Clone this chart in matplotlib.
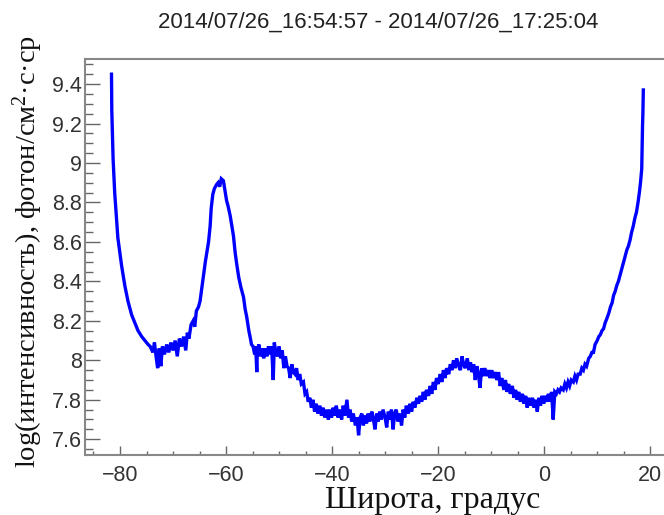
import matplotlib
matplotlib.use("Agg")
import matplotlib.pyplot as plt
from matplotlib.ticker import MultipleLocator

plt.rcParams["mathtext.fontset"] = "custom"
plt.rcParams["mathtext.rm"] = "Liberation Serif"
plt.rcParams["mathtext.it"] = "Liberation Serif:italic"

title = "2014/07/26_16:54:57 - 2014/07/26_17:25:04"
xlabel = "Широта, градус"
ylabel = "log(интенсивность), фотон/см$^{\\mathrm{2}}$·с·ср"

latitude = [
    -81.6, -81.55, -81.3, -81.0, -80.4, -79.7, -79.1, -78.5, -77.8, -77.2,
    -76.6, -75.9, -75.3, -74.7, -74.3, -73.8, -73.5, -73.2, -72.9, -72.6,
    -72.3, -72.0, -71.6, -71.2, -70.8, -70.4, -70.0, -69.6, -69.2, -68.8,
    -68.4, -68.0, -67.6, -67.3, -67.0, -66.6, -66.2, -65.9, -65.6, -65.2,
    -64.9, -64.6, -64.3, -63.9, -63.6, -63.3, -63.0, -62.8, -62.5, -62.2,
    -61.8, -61.5, -61.2, -60.9, -60.5, -60.2, -59.9, -59.6, -59.2, -58.9,
    -58.6, -58.3, -58.0, -57.6, -57.2, -56.7, -56.4, -56.1, -55.7, -55.4,
    -55.2, -54.9, -54.6, -54.4, -54.2, -54.1, -53.8, -53.5, -53.2, -52.9,
    -52.6, -52.3, -52.0, -51.7, -51.4, -51.1, -50.9, -50.6, -50.3, -50.0,
    -49.7, -49.4, -49.1, -48.8, -48.5, -48.2, -47.9, -47.6, -47.3, -47.0,
    -46.7, -46.4, -46.1, -45.8, -45.4, -45.1, -44.8, -44.5, -44.2, -43.9,
    -43.6, -43.3, -43.0, -42.7, -42.3, -42.0, -41.7, -41.4, -41.0, -40.7,
    -40.4, -40.1, -39.8, -39.5, -39.2, -38.9, -38.5, -38.2, -37.9, -37.6,
    -37.2, -36.9, -36.6, -36.3, -36.0, -35.6, -35.3, -35.0, -34.7, -34.4,
    -34.1, -33.8, -33.5, -33.2, -32.9, -32.5, -32.2, -31.9, -31.6, -31.3,
    -31.0, -30.7, -30.4, -30.0, -29.7, -29.4, -29.1, -28.8, -28.5, -28.2,
    -27.9, -27.6, -27.2, -26.9, -26.6, -26.3, -26.0, -25.6, -25.3, -25.0,
    -24.7, -24.4, -24.0, -23.7, -23.4, -23.1, -22.8, -22.5, -22.2, -21.8,
    -21.5, -21.2, -20.9, -20.6, -20.3, -20.0, -19.6, -19.3, -19.0, -18.7,
    -18.4, -18.0, -17.7, -17.4, -17.1, -16.8, -16.5, -16.1, -15.8, -15.5,
    -15.2, -14.9, -14.5, -14.2, -13.9, -13.6, -13.3, -13.0, -12.7, -12.4,
    -12.1, -11.8, -11.5, -11.2, -10.8, -10.5, -10.2, -9.9, -9.6, -9.2,
    -8.9, -8.6, -8.3, -8.0, -7.6, -7.3, -7.0, -6.7, -6.4, -6.0,
    -5.7, -5.4, -5.1, -4.8, -4.5, -4.1, -3.8, -3.5, -3.2, -2.9,
    -2.6, -2.2, -1.9, -1.6, -1.3, -1.0, -0.7, -0.4, -0.1, 0.2,
    0.5, 0.8, 1.1, 1.4, 1.7, 2.0, 2.3, 2.6, 2.9, 3.2,
    3.6, 3.9, 4.2, 4.5, 4.8, 5.1, 5.5, 5.8, 6.1, 6.4,
    6.8, 7.1, 7.4, 7.7, 8.0, 8.4, 8.7, 9.0, 9.3, 9.6,
    10.0, 10.3, 10.6, 10.9, 11.2, 11.5, 11.8, 12.2, 12.5, 12.8,
    13.1, 13.4, 13.7, 14.0, 14.3, 14.7, 15.0, 15.3, 15.6, 15.9,
    16.2, 16.5, 16.8, 17.1, 17.4, 17.7, 18.0, 18.2, 18.4, 18.55,
    18.62, 18.7,
]

log_intensity = [
    9.45, 9.27, 9.02, 8.85, 8.62, 8.48, 8.38, 8.30, 8.23, 8.19,
    8.15, 8.12, 8.10, 8.08, 8.07, 8.04, 8.09, 8.02, 7.96, 8.06,
    7.97, 8.07, 8.03, 8.08, 8.04, 8.09, 8.05, 8.10, 8.02, 8.11,
    8.07, 8.12, 8.05, 8.14, 8.11, 8.18, 8.20, 8.17, 8.25, 8.27,
    8.30, 8.36, 8.42, 8.50, 8.55, 8.60, 8.68, 8.77, 8.84, 8.87,
    8.89, 8.90, 8.88, 8.92, 8.91, 8.86, 8.81, 8.78, 8.73, 8.68,
    8.63, 8.55, 8.49, 8.42, 8.37, 8.32, 8.26, 8.22, 8.15, 8.11,
    8.08, 8.07, 8.03, 8.07, 7.94, 8.05, 8.08, 8.02, 8.06, 8.01,
    8.06, 8.02, 8.07, 8.03, 8.07, 7.90, 8.09, 8.04, 8.02, 8.07,
    8.01, 8.05, 7.96, 8.02, 7.97, 7.96, 7.91, 7.98, 7.94, 7.93,
    7.96, 7.90, 7.93, 7.88, 7.89, 7.83, 7.84, 7.79, 7.81, 7.76,
    7.80, 7.74, 7.78, 7.73, 7.77, 7.72, 7.76, 7.71, 7.75, 7.70,
    7.75, 7.71, 7.76, 7.72, 7.77, 7.71, 7.75, 7.70, 7.77, 7.72,
    7.80, 7.71, 7.75, 7.69, 7.73, 7.67, 7.71, 7.62, 7.71, 7.73,
    7.67, 7.72, 7.68, 7.73, 7.69, 7.74, 7.70, 7.65, 7.73, 7.69,
    7.74, 7.70, 7.75, 7.71, 7.66, 7.74, 7.70, 7.75, 7.65, 7.73,
    7.75, 7.69, 7.73, 7.67, 7.75, 7.71, 7.77, 7.73, 7.78, 7.74,
    7.79, 7.76, 7.81, 7.78, 7.82, 7.79, 7.84, 7.80, 7.85, 7.82,
    7.87, 7.83, 7.89, 7.85, 7.91, 7.88, 7.93, 7.89, 7.95, 7.91,
    7.96, 7.93, 7.98, 7.95, 8.00, 7.96, 8.01, 7.97, 7.95, 8.02,
    7.98, 7.96, 8.01, 7.95, 7.99, 7.94, 7.98, 7.90, 7.97, 7.93,
    7.86, 7.96, 7.92, 7.96, 7.92, 7.95, 7.91, 7.95, 7.91, 7.94,
    7.90, 7.94, 7.87, 7.91, 7.85, 7.90, 7.84, 7.88, 7.83, 7.87,
    7.81, 7.85, 7.80, 7.84, 7.79, 7.83, 7.78, 7.82, 7.76, 7.81,
    7.77, 7.81, 7.76, 7.80, 7.74, 7.81, 7.77, 7.82, 7.78, 7.82,
    7.79, 7.83, 7.79, 7.84, 7.70, 7.84, 7.83, 7.85, 7.84, 7.86,
    7.85, 7.88, 7.86, 7.89, 7.87, 7.90, 7.89, 7.92, 7.90, 7.93,
    7.93, 7.96, 7.95, 7.98, 7.97, 8.01, 8.02, 8.04, 8.04, 8.08,
    8.10, 8.12, 8.13, 8.15, 8.16, 8.19, 8.21, 8.24, 8.27, 8.29,
    8.33, 8.35, 8.38, 8.40, 8.43, 8.47, 8.50, 8.53, 8.56, 8.58,
    8.61, 8.65, 8.68, 8.72, 8.75, 8.80, 8.86, 8.91, 8.97, 9.19,
    9.25, 9.37,
]

x_limits = (-86.6, 22.6)
y_limits = (7.52, 9.527)
x_major_ticks = [-80, -60, -40, -20, 0, 20]
y_major_ticks = [7.6, 7.8, 8.0, 8.2, 8.4, 8.6, 8.8, 9.0, 9.2, 9.4]
y_tick_labels = ["7.6", "7.8", "8", "8.2", "8.4", "8.6", "8.8", "9", "9.2", "9.4"]
x_tick_labels = ["\u221280", "\u221260", "\u221240", "\u221220", "0", "20"]

fig = plt.figure(figsize=(6.64, 5.15), dpi=100)
ax = fig.add_axes([85 / 664, 1 - 455 / 515, 1 - 85 / 664, (455 - 59) / 515])

ax.plot(latitude, log_intensity, color="#0000ff", lw=2.4, solid_joinstyle="miter")

ax.set_xlim(*x_limits)
ax.set_ylim(*y_limits)
ax.set_xticks(x_major_ticks)
ax.set_xticklabels(x_tick_labels)
ax.set_yticks(y_major_ticks)
ax.set_yticklabels(y_tick_labels)
ax.xaxis.set_minor_locator(MultipleLocator(5))
ax.yaxis.set_minor_locator(MultipleLocator(0.05))

for lbl in ax.get_xticklabels() + ax.get_yticklabels():
    lbl.set_fontfamily(["Liberation Sans", "DejaVu Sans"])
    lbl.set_fontsize(15.5)
    lbl.set_color("#333333")

ax.tick_params(axis="x", which="major", direction="in", length=6.5, width=1.0,
               color="#666666", pad=7)
ax.tick_params(axis="x", which="minor", direction="in", length=3.2, width=1.0,
               color="#666666")
ax.tick_params(axis="y", which="major", direction="in", length=11, width=1.0,
               color="#666666", pad=2)
ax.tick_params(axis="y", which="minor", direction="in", length=5.5, width=1.0,
               color="#666666")
ax.tick_params(top=False, right=False)

for side in ["left", "bottom", "top"]:
    ax.spines[side].set_color("#888888")
    ax.spines[side].set_linewidth(1.5)
ax.spines["right"].set_visible(False)

fig.text(378 / 664, 1 - 22 / 515, title, ha="center", va="center",
         fontsize=16, color="#222222", family=["Liberation Sans", "DejaVu Sans"])
fig.text(433 / 664, 1 - 508 / 515, xlabel, ha="center", va="baseline",
         fontsize=23, color="#111111", family=["Liberation Serif", "DejaVu Serif"])
fig.text(28 / 664, 1 - 251 / 515, ylabel, ha="center", va="center", rotation=90,
         fontsize=20.5, color="#111111", family=["Liberation Serif", "DejaVu Serif"])

fig.savefig("out.png", dpi=100)
